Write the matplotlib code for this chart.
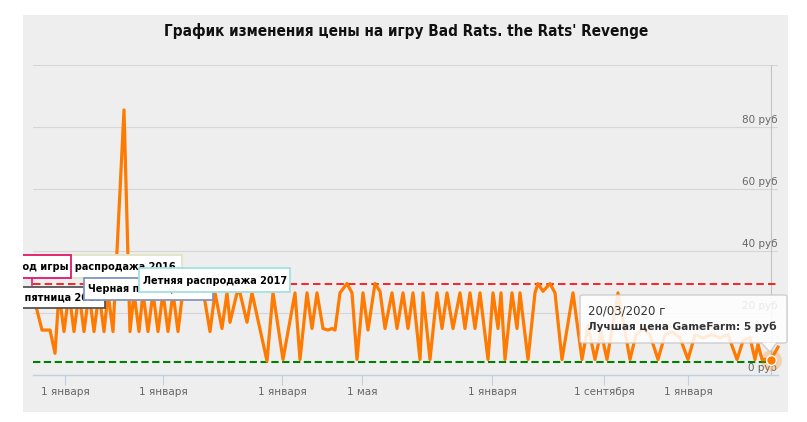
#!/usr/bin/env python
# coding=utf-8
"""
Price history chart for the game 'Bad Rats. the Rats' Revenge'
(ordinal time axis, price in rub)
"""

import matplotlib
matplotlib.use('Agg')
import matplotlib.pyplot as plt
import matplotlib.transforms as mtransforms
from matplotlib.patches import Rectangle, FancyBboxPatch, Polygon

W, H = 807, 422

title = "График изменения цены на игру Bad Rats. the Rats' Revenge"

#  Ordinal position of each price record and the price in rub
pos = [0, 9, 17, 22, 26, 31, 36, 41, 46, 51, 56, 61, 66, 71, 75, 80, 91, 97,
       101, 106, 110, 115, 120, 125, 130, 135, 140, 145, 150, 160, 170, 177,
       182, 189, 194, 197, 204, 207, 214, 219, 234, 240, 250, 262, 267, 274,
       279, 284, 290, 295, 299, 302, 307, 314, 319, 324, 330, 335, 342, 347,
       352, 359, 364, 370, 375, 380, 387, 390, 397, 404, 409, 414, 420, 427,
       432, 437, 442, 447, 455, 460, 465, 468, 472, 479, 484, 487, 495, 502,
       505, 510, 517, 522, 529, 540, 549, 555, 562, 568, 574, 585, 597, 603,
       610, 617, 625, 632, 639, 647, 655, 662, 670, 679, 687, 695, 704, 710,
       717, 722, 725, 729, 734, 738, 745]
price = [26, 14.5, 14.5, 7, 26.5, 14, 26.5, 14, 26.5, 14, 26.5, 14, 26.5, 14,
         26.5, 14, 85.5, 14, 26.5, 14, 26.5, 14, 26.5, 14, 26.5, 14, 26.5, 14,
         27.5, 28, 27.5, 14, 26.5, 15, 26.5, 17, 26.5, 26.5, 17, 26.5, 4.5,
         26.5, 5, 26.5, 5, 26.5, 15, 26.5, 15, 14.5, 15, 14.5, 26.5, 29.5,
         26.5, 5, 26.5, 14.5, 29.5, 27, 15, 26.5, 15, 26.5, 15, 26.5, 5, 26.5,
         5, 26.5, 15, 26.5, 15, 26.5, 15, 26.5, 15, 26.5, 5, 26.5, 15, 26.5,
         5, 26.5, 15, 26.5, 5, 26.5, 29.5, 27, 29.5, 26.5, 5, 26.5, 5, 16, 5,
         14, 5, 26.5, 5, 13, 15, 13, 5, 13, 14, 12, 5, 13, 12, 13, 12, 13, 5,
         11, 12, 5, 10, 5, 5, 5, 9]

hover_pos = 738          # point under the tooltip (20/03/2020, 5 rub)
max_level = 29.4         # red dashed line
min_level = 4.3          # green dashed line (best price)

x_ticks = [32, 130, 249, 329, 459, 571, 655]
x_labels = ['1 января', '1 января', '1 января', '1 мая', '1 января',
            '1 сентября', '1 января']
y_ticks = [0, 20, 40, 60, 80]

#  Event flags: text, border colour, box (left, top, right, bottom) in px
flags = [
    ('Зимняя распродажа 2016', '#e3e3c3', (28, 255, 182, 278), 'right', 176),
    ('Выход игры', '#e2176a', (-10, 255, 71, 278), 'right', 68),
    ('Черная пятница 2015', '#555555', (-10, 287, 105, 308), 'right', 101),
    ('Черная пятница 2016', '#8294c0', (84, 278, 213, 300), 'left', 88),
    ('Летняя распродажа 2017', '#a3e0e0', (139, 268, 290, 292), 'left', 143),
]


def fx(px):
    return px / W


def fy(py):
    return 1 - py / H


fig = plt.figure(figsize=(W / 100, H / 100), dpi=100)
fig.patch.set_facecolor('white')

#  Chart panel
fig.patches.append(Rectangle((fx(23), fy(412)), fx(765), 397 / H,
                             transform=fig.transFigure, facecolor='#eeeeee',
                             edgecolor='none', zorder=-5))

fig.text(fx(406), fy(31), title, ha='center', va='center', fontsize=11,
         fontweight='bold', fontstretch='condensed', color='#111111',
         family=['DejaVu Sans'])

ax = fig.add_axes([fx(33), fy(375), 745 / W, 310 / H])
ax.set_facecolor('none')
ax.set_xlim(0, 745)
ax.set_ylim(0, 100)

for v in [20, 40, 60, 80, 100]:
    ax.axhline(v, color='#d6d6d6', lw=0.8, zorder=0)

for s in ['top', 'right', 'left']:
    ax.spines[s].set_visible(False)
ax.spines['bottom'].set_color('#c0d0e0')
ax.spines['bottom'].set_linewidth(1)

ax.set_yticks([])
ax.set_xticks(x_ticks)
ax.set_xticklabels(x_labels)
ax.tick_params(axis='x', length=7.5, width=0.8, color='#c0d0e0', pad=1,
               labelsize=7.5, labelcolor='#666666')

trans = mtransforms.offset_copy(ax.get_yaxis_transform(), fig=fig,
                                x=-1, y=2, units='dots')
for v in y_ticks:
    ax.text(1.0, v, '%d руб' % v, transform=trans, ha='right', va='bottom',
            fontsize=7.5, color='#666666', zorder=1)

hover_idx = pos.index(hover_pos)

#  Crosshair at hovered point
ax.axvline(pos[hover_idx], color='#c4c4c4', lw=0.8, zorder=1)

ax.axhline(max_level, color='#ff0000', lw=1.2, ls=(0, (4.5, 2.5)), zorder=2)
ax.axhline(min_level, color='#008000', lw=1.5, ls=(0, (3.5, 1.7)), zorder=2)

ax.plot(pos, price, color='#ff7a00', lw=2.3, solid_joinstyle='round',
        zorder=3, clip_on=False)

ax.plot(pos[hover_idx], price[hover_idx], 'o', ms=15, color='#ff7a00',
        alpha=0.25, mec='none', zorder=4, clip_on=False)
ax.plot(pos[hover_idx], price[hover_idx], 'o', ms=7, mfc='#ff7a00',
        mec='white', mew=1, zorder=5, clip_on=False)

#  Flags
z = 10
for text, col, (l, t, r, b), align, tx in flags:
    fig.patches.append(Rectangle((fx(l), fy(b)), (r - l) / W, (b - t) / H,
                                 transform=fig.transFigure, facecolor='white',
                                 edgecolor=col, lw=1.3, zorder=z))
    fig.text(fx(tx), fy((t + b) / 2 + 0.5), text, ha=align, va='center',
             fontsize=7.0, fontweight='bold', color='black', zorder=z + 0.5)
    z += 1
fig.lines.append(plt.Line2D([fx(32), fx(32)], [fy(278), fy(285)],
                            transform=fig.transFigure, color='#e2176a',
                            lw=1.2, zorder=11))

#  Tooltip
fig.patches.append(FancyBboxPatch((fx(580), fy(343)), 207 / W, 48 / H,
                                  boxstyle='round,pad=0,rounding_size=0.004',
                                  transform=fig.transFigure,
                                  facecolor='white', alpha=0.86,
                                  edgecolor='#c8c8c8', lw=1, zorder=20))
fig.patches.append(Polygon([(fx(761), fy(342.5)), (fx(770), fy(352)),
                            (fx(777), fy(342.5))], closed=False,
                           transform=fig.transFigure, facecolor='white',
                           alpha=0.86, edgecolor='#c8c8c8', lw=1, zorder=20))
fig.text(fx(588), fy(311), '20/03/2020 г', ha='left', va='center',
         fontsize=8.5, color='#333333', zorder=21)
fig.text(fx(588), fy(327), 'Лучшая цена GameFarm: 5 руб', ha='left',
         va='center', fontsize=7.6, fontweight='bold', color='#333333',
         zorder=21)

#  Container clips the flags on the left
fig.patches.append(Rectangle((0, 0), fx(23), 1, transform=fig.transFigure,
                             facecolor='white', edgecolor='none', zorder=30))

plt.savefig('out.png', dpi=100)
plt.close()
